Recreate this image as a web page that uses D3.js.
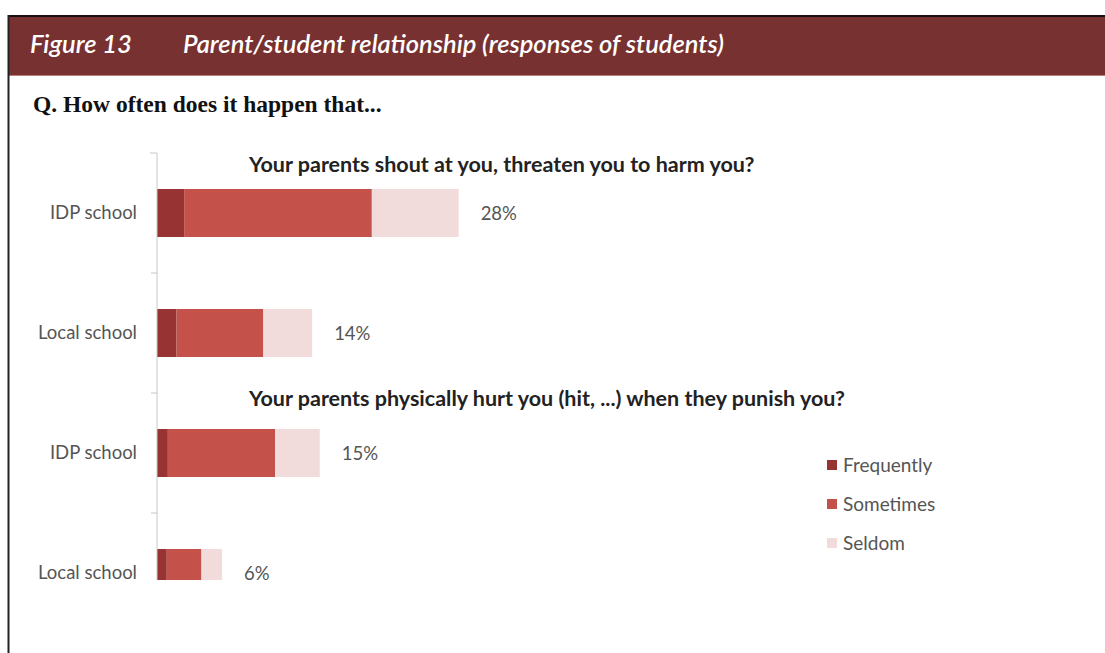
<!DOCTYPE html>
<html>
<head>
<meta charset="utf-8">
<script src="https://cdn.jsdelivr.net/npm/d3@7"></script>
<style>
  body { margin: 0; background: #fff; }
  text { font-family: Lato, "Open Sans", sans-serif; }
</style>
</head>
<body>
<script>
// --- data ---
const questions  = ["Your parents shout at you, threaten you to harm you?",
                    "Your parents physically hurt you (hit, ...) when they punish you?"];
const categories = ["IDP school 1", "Local school 1", "IDP school 2", "Local school 2"];
const catLabels  = ["IDP school", "Local school", "IDP school", "Local school"];
const seriesNames = ["Frequently", "Sometimes", "Seldom"];
const frequently = [2.5, 1.8, 1.0, 0.9];
const sometimes  = [17.3, 8.0, 9.9, 3.2];
const seldom     = [8.0, 4.5, 4.1, 1.9];
const totalLabels = ["28%", "14%", "15%", "6%"];

const colors = ["#973333", "#c4524a", "#f2dcdb"];

const W = 1105, H = 653;
const svg = d3.select("body").append("svg")
  .attr("width", W)
  .attr("height", H);

// frame + header band
svg.append("rect").attr("x", 8).attr("y", 16).attr("width", W - 8).attr("height", 60)
  .attr("fill", "#783131");
svg.append("line").attr("x1", 8).attr("x2", W).attr("y1", 16).attr("y2", 16)
  .attr("stroke", "#1a1010").attr("stroke-width", 2);
svg.append("line").attr("x1", 8).attr("x2", W).attr("y1", 75.5).attr("y2", 75.5)
  .attr("stroke", "#b98080").attr("stroke-width", 1);
svg.append("line").attr("x1", 8.5).attr("x2", 8.5).attr("y1", 15).attr("y2", H)
  .attr("stroke", "#222").attr("stroke-width", 2);

svg.append("text").attr("x", 30).attr("y", 53)
  .attr("fill", "#fff").attr("font-size", 25.5).attr("font-style", "italic").attr("font-weight", 600)
  .text("Figure 13");
svg.append("text").attr("x", 183).attr("y", 53)
  .attr("fill", "#fff").attr("font-size", 25.5).attr("font-style", "italic").attr("font-weight", 600)
  .text("Parent/student relationship (responses of students)");

svg.append("text").attr("x", 33).attr("y", 112)
  .style("font-family", "'Liberation Serif', 'DejaVu Serif', serif")
  .attr("fill", "#111").attr("font-size", 23.5).attr("font-weight", "bold")
  .text("Q. How often does it happen that...");

// --- chart ---
const plotTop = 153, plotBottom = 580, axisX = 157;
const x = d3.scaleLinear().domain([0, 30]).range([axisX, axisX + 30 * 10.85]);
const y = d3.scaleBand().domain(categories).range([plotTop, plotTop + 4 * 120]).paddingInner(0.6).paddingOuter(0.3);

const rows = categories.map((c, i) => ({ cat: c, Frequently: frequently[i], Sometimes: sometimes[i], Seldom: seldom[i] }));
const stacked = d3.stack().keys(seriesNames)(rows);

// the source picture is cut off just under the last bar
svg.append("defs").append("clipPath").attr("id", "clip")
  .append("rect").attr("x", 0).attr("y", 0).attr("width", W).attr("height", plotBottom);

const plot = svg.append("g").attr("clip-path", "url(#clip)");

plot.selectAll("g.series")
  .data(stacked)
  .join("g")
  .attr("class", "series")
  .attr("fill", (d, i) => colors[i])
  .selectAll("rect")
  .data(d => d)
  .join("rect")
  .attr("x", d => x(d[0]))
  .attr("width", d => x(d[1]) - x(d[0]))
  .attr("y", d => y(d.data.cat))
  .attr("height", y.bandwidth());

// axis line + boundary ticks
const yAxis = d3.axisLeft(y).tickSize(0).tickFormat((d, i) => catLabels[i]).tickPadding(20);
const axisG = svg.append("g").attr("transform", `translate(${axisX},0)`).call(yAxis);
axisG.select(".domain").attr("stroke", "#c8c8c8").attr("d", `M-7,${plotTop}H0V${plotBottom}`);
axisG.selectAll(".tick text").attr("fill", "#555").attr("font-size", 18.5)
  .attr("dy", "0.3em")
  .style("font-family", "Lato, sans-serif");

axisG.selectAll("line.bound")
  .data(d3.range(1, 4).map(i => plotTop + i * 120))
  .join("line")
  .attr("class", "bound")
  .attr("x1", -6).attr("x2", 0)
  .attr("y1", d => d).attr("y2", d => d)
  .attr("stroke", "#c8c8c8");

// total labels
svg.selectAll("text.total")
  .data(rows)
  .join("text")
  .attr("class", "total")
  .attr("x", (d, i) => x(frequently[i] + sometimes[i] + seldom[i]) + 22)
  .attr("y", d => y(d.cat) + y.bandwidth() / 2 + 7)
  .attr("fill", "#555").attr("font-size", 18.5)
  .text((d, i) => totalLabels[i]);

// question titles
svg.selectAll("text.q")
  .data(questions)
  .join("text")
  .attr("class", "q")
  .attr("x", 249)
  .attr("y", (d, i) => 172 + i * 234)
  .attr("fill", "#222").attr("font-size", 21.5).attr("font-weight", "bold")
  .text(d => d);

// legend
const legend = svg.append("g").attr("transform", "translate(827,460)");
const li = legend.selectAll("g").data(seriesNames).join("g")
  .attr("transform", (d, i) => `translate(0,${i * 39})`);
li.append("rect").attr("width", 10).attr("height", 10).attr("fill", (d, i) => colors[i]);
li.append("text").attr("x", 16).attr("y", 12).attr("fill", "#555").attr("font-size", 19).text(d => d);
</script>
</body>
</html>
